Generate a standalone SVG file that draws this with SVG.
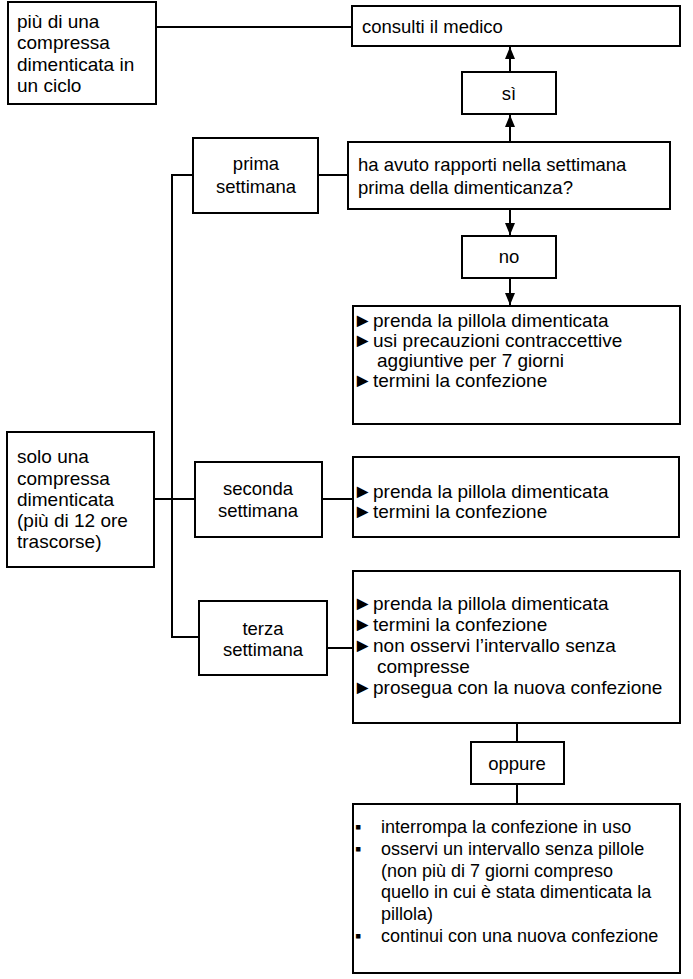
<svg xmlns="http://www.w3.org/2000/svg" width="693" height="979" viewBox="0 0 693 979">
<style>
rect{fill:#fff;stroke:#000;stroke-width:2}
text{font-family:"Liberation Sans",Arial,sans-serif;font-size:18.5px;fill:#000}
.c{text-anchor:middle}
.L{font-size:19px}
.B{font-size:19px}
.S{font-size:18px}
.b{font-family:"Liberation Sans","DejaVu Sans",sans-serif;font-size:19.5px}
.ln{fill:none;stroke:#000;stroke-width:2}
</style>
<defs>
<marker id="ah" viewBox="0 0 12 10" refX="12" refY="5" markerWidth="12" markerHeight="10" markerUnits="userSpaceOnUse" orient="auto">
<path d="M0,0L12,5L0,10z" fill="#000"/>
</marker>
</defs>
<rect width="693" height="979" style="fill:#fff;stroke:none"/>
<g id="connectors">
<path class="ln" d="M156,27H352"/>
<path class="ln" d="M510,72V47" marker-end="url(#ah)"/>
<path class="ln" d="M510,141V115" marker-end="url(#ah)"/>
<path class="ln" d="M510,209V235" marker-end="url(#ah)"/>
<path class="ln" d="M510,278V305" marker-end="url(#ah)"/>
<path class="ln" d="M154,499H195"/>
<path class="ln" d="M193,175H172V637H199"/>
<path class="ln" d="M318,175H348"/>
<path class="ln" d="M322,499H353"/>
<path class="ln" d="M327,648H353"/>
<path class="ln" d="M517,723V742"/>
<path class="ln" d="M517,784V804"/>
</g>
<g id="n1">
<rect x="8" y="2" width="148" height="102"/>
<text class="L"><tspan x="17" y="28">più di una</tspan><tspan x="17" y="49">compressa</tspan><tspan x="17" y="71">dimenticata in</tspan><tspan x="17" y="92">un ciclo</tspan></text>
</g>
<g id="n2">
<rect x="352" y="6" width="328" height="40"/>
<text x="362" y="33">consulti il medico</text>
</g>
<g id="n3">
<rect x="462" y="72" width="94" height="42"/>
<text class="c" x="509" y="100">sì</text>
</g>
<g id="n4">
<rect x="348" y="142" width="322" height="67"/>
<text><tspan x="358" y="171">ha avuto rapporti nella settimana</tspan><tspan x="358" y="194">prima della dimenticanza?</tspan></text>
</g>
<g id="n5">
<rect x="193" y="138" width="125" height="75"/>
<text class="c"><tspan x="256" y="170">prima</tspan><tspan x="256" y="193">settimana</tspan></text>
</g>
<g id="n6">
<rect x="462" y="236" width="94" height="42"/>
<text class="c" x="509" y="263">no</text>
</g>
<g id="n7">
<rect x="353" y="306" width="327" height="118"/>
<text class="b" x="353" y="327">►</text><text class="B" x="373" y="327">prenda la pillola dimenticata</text>
<text class="b" x="353" y="347">►</text><text class="B" x="373" y="347">usi precauzioni contraccettive</text>
<text class="B" x="377" y="367">aggiuntive per 7 giorni</text>
<text class="b" x="353" y="387">►</text><text class="B" x="373" y="387">termini la confezione</text>
</g>
<g id="n8">
<rect x="7" y="432" width="147" height="135"/>
<text class="L"><tspan x="17" y="463">solo una</tspan><tspan x="17" y="485">compressa</tspan><tspan x="17" y="506">dimenticata</tspan><tspan x="17" y="527">(più di 12 ore</tspan><tspan x="17" y="548">trascorse)</tspan></text>
</g>
<g id="n9">
<rect x="195" y="462" width="127" height="75"/>
<text class="c"><tspan x="258" y="495">seconda</tspan><tspan x="258" y="517">settimana</tspan></text>
</g>
<g id="n10">
<rect x="353" y="457" width="326" height="80"/>
<text class="b" x="353" y="498">►</text><text class="B" x="373" y="498">prenda la pillola dimenticata</text>
<text class="b" x="353" y="518">►</text><text class="B" x="373" y="518">termini la confezione</text>
</g>
<g id="n11">
<rect x="199" y="601" width="128" height="74"/>
<text class="c"><tspan x="263" y="635">terza</tspan><tspan x="263" y="656">settimana</tspan></text>
</g>
<g id="n12">
<rect x="353" y="571" width="327" height="152"/>
<text class="b" x="353" y="610">►</text><text class="B" x="373" y="610">prenda la pillola dimenticata</text>
<text class="b" x="353" y="631">►</text><text class="B" x="373" y="631">termini la confezione</text>
<text class="b" x="353" y="652">►</text><text class="B" x="373" y="652">non osservi l’intervallo senza</text>
<text class="B" x="377" y="673">compresse</text>
<text class="b" x="353" y="694">►</text><text class="B" x="373" y="694">prosegua con la nuova confezione</text>
</g>
<g id="n13">
<rect x="471" y="742" width="93" height="42"/>
<text class="c" x="517" y="770">oppure</text>
</g>
<g id="n14">
<rect x="353" y="804" width="327" height="169"/>
<text class="S" x="355" y="833">▪</text><text class="S" x="381" y="833">interrompa la confezione in uso</text>
<text class="S" x="355" y="855">▪</text><text class="S" x="381" y="855">osservi un intervallo senza pillole</text>
<text class="S" x="381" y="877">(non più di 7 giorni compreso</text>
<text class="S" x="381" y="898">quello in cui è stata dimenticata la</text>
<text class="S" x="381" y="920">pillola)</text>
<text class="S" x="355" y="942">▪</text><text class="S" x="381" y="942">continui con una nuova confezione</text>
</g>
</svg>
